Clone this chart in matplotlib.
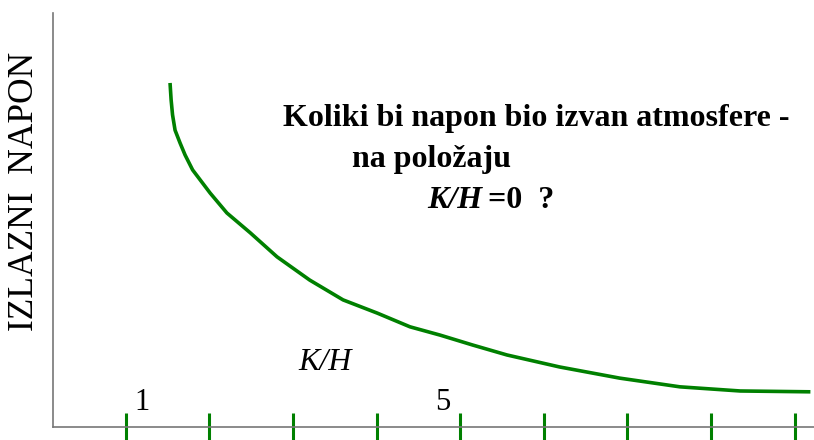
import matplotlib
matplotlib.use('Agg')
import matplotlib.pyplot as plt
import numpy as np

# K/H positions and output voltage
kh = [1.53, 1.543, 1.56, 1.59, 1.65, 1.71, 1.80, 2.01, 2.21, 2.49, 2.81,
      3.20, 3.60, 4.01, 4.40, 4.76, 5.15, 5.56, 6.19, 6.91, 7.63, 8.35, 9.19]
napon = [8.31, 7.90, 7.54, 7.17, 6.86, 6.57, 6.21, 5.65, 5.17, 4.69, 4.11,
         3.55, 3.07, 2.75, 2.42, 2.22, 1.98, 1.74, 1.45, 1.18, 0.97, 0.87, 0.85]
ticks = [1, 2, 3, 4, 5, 6, 7, 8, 9]
# the two numbers written above the axis and where they sit
num_labels = ['1', '5']
num_x = [1.195, 4.795]

serif = ['Liberation Serif', 'DejaVu Serif']

fig = plt.figure(figsize=(8.14, 4.4), dpi=100)
ax = fig.add_axes([53/814, 13/440, 761/814, 414/440])

ax.plot(kh, napon, color='green', lw=2.6, solid_capstyle='butt')

ax.set_xlim(0.130, 9.233)
ax.set_ylim(0, 10)
ax.set_xticks(ticks)
ax.set_xticklabels([])
ax.set_yticks([])
ax.tick_params(axis='x', direction='inout', length=19.5, width=2.2,
               color='green')
for s in ['top', 'right']:
    ax.spines[s].set_visible(False)
for s in ['left', 'bottom']:
    ax.spines[s].set_color('#777777')
    ax.spines[s].set_linewidth(1.2)

for lab, x in zip(num_labels, num_x):
    ax.text(x, 0.41, lab, ha='center', va='baseline', fontsize=22,
            family=serif)

ax.text(3.06, 1.38, 'K/H', ha='left', va='baseline', fontsize=23,
        style='italic', family=serif)

fig.text(25/814, 1 - 191/440, 'IZLAZNI  NAPON', rotation=90, ha='center',
         va='center', fontsize=25.5, family=serif)

ax.text(2.882, 7.27, 'Koliki bi napon bio izvan atmosfere -', ha='left',
        va='baseline', fontsize=23, weight='bold', family=serif)
ax.text(3.707, 6.28, 'na položaju', ha='left', va='baseline', fontsize=23,
        weight='bold', family=serif)
ax.text(4.604, 5.29, 'K/H', ha='left', va='baseline', fontsize=23,
        weight='bold', style='italic', family=serif)
ax.text(5.335, 5.29, '=0  ?', ha='left', va='baseline', fontsize=23,
        weight='bold', family=serif)

fig.savefig('out.png', dpi=100)
